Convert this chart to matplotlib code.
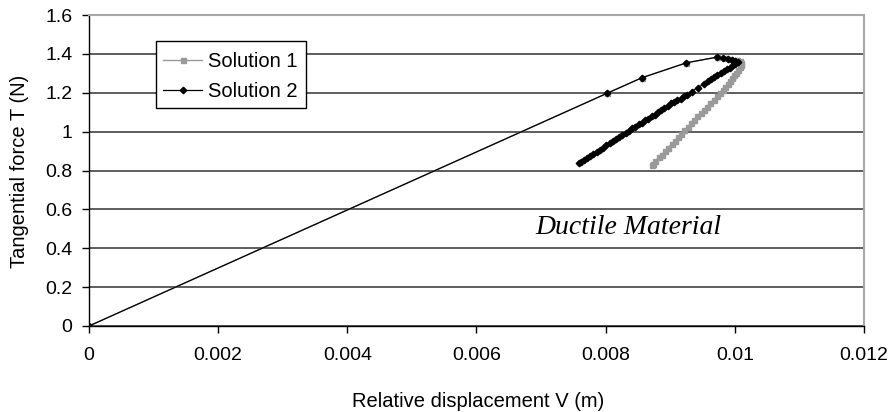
import matplotlib
matplotlib.use("Agg")
import matplotlib.pyplot as plt
from matplotlib.patches import Rectangle

# Solution 1: loading path, peak region and softening branch
sol1_x = [0.0, 0.00802, 0.00856, 0.00925, 0.00972, 0.00985, 0.00992, 0.00998, 0.01004,
          0.01008, 0.01010, 0.01010, 0.01008, 0.01005, 0.01002, 0.00999, 0.00996,
          0.00993, 0.00989, 0.00985, 0.00981, 0.00977, 0.00972, 0.00967, 0.00962,
          0.00957, 0.00952, 0.00947, 0.00942, 0.00937, 0.00932, 0.00927, 0.00922,
          0.00917, 0.00912, 0.00907, 0.00902, 0.00897, 0.00892, 0.00887, 0.00882,
          0.00877, 0.00873, 0.00871]
sol1_y = [0.0, 1.197, 1.277, 1.354, 1.383, 1.379, 1.375, 1.371, 1.366,
          1.361, 1.353, 1.341, 1.330, 1.317, 1.304, 1.292, 1.278,
          1.262, 1.247, 1.231, 1.216, 1.199, 1.183, 1.164, 1.148,
          1.129, 1.113, 1.094, 1.079, 1.059, 1.043, 1.023, 1.007,
          0.988, 0.972, 0.952, 0.937, 0.917, 0.901, 0.882, 0.867,
          0.847, 0.836, 0.828]

# Solution 2: loading path, peak region and softening branch
sol2_x = [0.0, 0.00802, 0.00856, 0.00925, 0.00972, 0.00982, 0.00990, 0.00996, 0.01001,
          0.01005, 0.01001, 0.00997, 0.00992, 0.00988, 0.00983, 0.00978, 0.00973,
          0.00968, 0.00963, 0.00958, 0.00953, 0.00943, 0.00933, 0.00926, 0.00921,
          0.00916, 0.00911, 0.00906, 0.00901, 0.00896, 0.00891, 0.00886, 0.00881,
          0.00876, 0.00871, 0.00866, 0.00861, 0.00856, 0.00851, 0.00846, 0.00841,
          0.00836, 0.00831, 0.00826, 0.00821, 0.00816, 0.00811, 0.00806, 0.00801,
          0.00796, 0.00791, 0.00786, 0.00781, 0.00776, 0.00771, 0.00766, 0.00762,
          0.00758]
sol2_y = [0.0, 1.197, 1.277, 1.354, 1.383, 1.379, 1.374, 1.369, 1.364,
          1.357, 1.348, 1.341, 1.329, 1.322, 1.310, 1.304, 1.292,
          1.283, 1.270, 1.260, 1.247, 1.227, 1.206, 1.190, 1.182,
          1.170, 1.163, 1.152, 1.145, 1.132, 1.124, 1.110, 1.103,
          1.088, 1.080, 1.067, 1.060, 1.045, 1.038, 1.024, 1.017,
          1.002, 0.995, 0.981, 0.973, 0.960, 0.951, 0.939, 0.929,
          0.918, 0.907, 0.897, 0.885, 0.876, 0.864, 0.855, 0.846,
          0.838]

x_ticks = [0, 0.002, 0.004, 0.006, 0.008, 0.01, 0.012]
x_tick_labels = ["0", "0.002", "0.004", "0.006", "0.008", "0.01", "0.012"]
y_ticks = [0, 0.2, 0.4, 0.6, 0.8, 1.0, 1.2, 1.4, 1.6]
y_tick_labels = ["0", "0.2", "0.4", "0.6", "0.8", "1", "1.2", "1.4", "1.6"]

plt.rcParams["font.family"] = ["Liberation Sans", "DejaVu Sans"]

W, H = 893, 412
L, R, B, T = 89, 864, 326, 15
fig = plt.figure(figsize=(W / 100, H / 100), dpi=100)
ax = fig.add_axes([L / W, 1 - B / H, (R - L) / W, (B - T) / H])

ax.plot(sol1_x, sol1_y, color="#9a9a9a", lw=1.0, marker="s", ms=3.6,
        mec="#9a9a9a", mfc="#9a9a9a", label="Solution 1", zorder=3)
ax.plot(sol2_x, sol2_y, color="black", lw=0.9, marker="D", ms=3.3,
        mec="black", mfc="black", label="Solution 2", zorder=4)

ax.set_xlim(0, 0.012)
ax.set_ylim(0, 1.6)
ax.set_xticks(x_ticks)
ax.set_xticklabels(x_tick_labels)
ax.set_yticks(y_ticks)
ax.set_yticklabels(y_tick_labels)
ax.tick_params(axis="both", direction="out", length=5, width=1, labelsize=14,
               colors="black")
ax.tick_params(axis="x", pad=10)
ax.tick_params(axis="y", pad=7)

ax.yaxis.grid(True, color="#505050", lw=1.3)
ax.set_axisbelow(True)

for side in ("left", "bottom"):
    ax.spines[side].set_color("black")
    ax.spines[side].set_linewidth(1.0)
for side in ("top", "right"):
    ax.spines[side].set_color("#a8a8a8")
    ax.spines[side].set_linewidth(1.5)

ax.set_xlabel("Relative displacement V (m)", fontsize=14.5)
ax.set_ylabel("Tangential force T (N)", fontsize=14.5)
ax.xaxis.set_label_coords(0.502, (B - 392) / (B - T))
ax.yaxis.set_label_coords((29 - L) / (R - L), 0.498)

# Legend: white box with a thin black border, entries placed inside it
box = Rectangle((156 / W, 1 - 108 / H), 150 / W, 67 / H, transform=fig.transFigure,
                facecolor="white", edgecolor="black", lw=1.0, zorder=5)
fig.patches.append(box)
leg = fig.legend(loc="upper left", bbox_to_anchor=(163 / W, 1 - 52 / H),
                 fontsize=14.5, frameon=False, borderpad=0, handlelength=1.95,
                 handletextpad=0.3, labelspacing=0.55, borderaxespad=0)
leg.set_zorder(6)

ax.text(0.00835, 0.509, "Ductile Material", fontsize=20, style="italic",
        family=["Liberation Serif"], ha="center", va="center")

fig.savefig("out.png", dpi=100)
